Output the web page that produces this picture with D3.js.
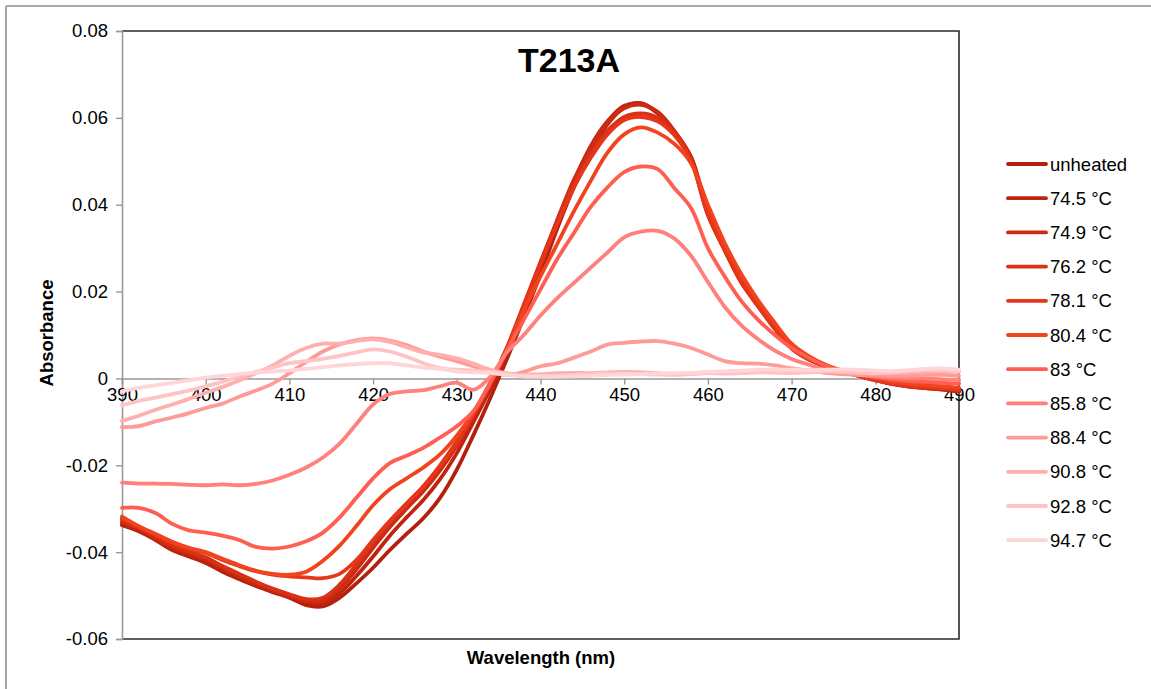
<!DOCTYPE html>
<html>
<head>
<meta charset="utf-8">
<script src="https://cdn.jsdelivr.net/npm/d3@7/dist/d3.min.js"></script>
<style>
  html, body { margin: 0; padding: 0; background: #fff; }
  svg { display: block; }
  text { font-family: "Liberation Sans", Arial, Helvetica, sans-serif; fill: #000; }
</style>
</head>
<body>
<svg id="chart" width="1151" height="689"></svg>
<script>
// ---------------- DATA ----------------
const wavelengths = [390,392,394,396,398,400,402,404,406,408,410,412,414,416,418,420,422,424,426,428,
  430,432,434,436,438,440,442,444,446,448,450,452,454,456,458,460,462,464,466,468,
  470,472,474,476,478,480,482,484,486,488,490];

const seriesNames = ["unheated","74.5 °C","74.9 °C","76.2 °C","78.1 °C","80.4 °C","83 °C","85.8 °C","88.4 °C","90.8 °C","92.8 °C","94.7 °C"];
const seriesColors = ["#b3200e","#c0240f","#cc2a12","#d93116","#e6361a","#f2431f","#ff5f52","#ff807c","#ff9b97","#ffafae","#ffc3c3","#ffd5d7"];

const unheated = [-0.0338,-0.0352,-0.0372,-0.0395,-0.0410,-0.0425,-0.0445,-0.0462,-0.0478,-0.0492,
  -0.0505,-0.0522,-0.0525,-0.0505,-0.0472,-0.0436,-0.0395,-0.0358,-0.0322,-0.0275,
  -0.0210,-0.0130,-0.0045,0.0045,0.0140,0.0240,0.0345,0.0440,0.0520,0.0585,
  0.0625,0.0634,0.0612,0.0568,0.0510,0.0385,0.0300,0.0225,0.0170,0.0118,
  0.0072,0.0046,0.0029,0.0018,0.0008,-0.0002,-0.0012,-0.0018,-0.0022,-0.0025,-0.0030];
const t745 = [-0.0335,-0.0350,-0.0370,-0.0392,-0.0406,-0.0420,-0.0440,-0.0458,-0.0475,-0.0490,
  -0.0502,-0.0515,-0.0518,-0.0495,-0.0455,-0.0410,-0.0362,-0.0320,-0.0280,-0.0232,
  -0.0172,-0.0100,-0.0025,0.0060,0.0155,0.0255,0.0360,0.0455,0.0535,0.0592,
  0.0628,0.0632,0.0610,0.0565,0.0505,0.0380,0.0298,0.0222,0.0168,0.0115,
  0.0070,0.0045,0.0028,0.0017,0.0007,-0.0003,-0.0012,-0.0019,-0.0022,-0.0026,-0.0030];
const t749 = [-0.0330,-0.0346,-0.0366,-0.0388,-0.0402,-0.0416,-0.0436,-0.0454,-0.0472,-0.0487,
  -0.0500,-0.0512,-0.0512,-0.0485,-0.0440,-0.0390,-0.0342,-0.0300,-0.0260,-0.0212,
  -0.0155,-0.0088,-0.0015,0.0068,0.0165,0.0265,0.0365,0.0458,0.0530,0.0588,
  0.0622,0.0630,0.0614,0.0570,0.0508,0.0378,0.0295,0.0220,0.0166,0.0114,
  0.0069,0.0044,0.0028,0.0016,0.0006,-0.0004,-0.0013,-0.0018,-0.0021,-0.0024,-0.0028];
const t762 = [-0.0325,-0.0343,-0.0362,-0.0384,-0.0398,-0.0412,-0.0432,-0.0450,-0.0468,-0.0484,
  -0.0497,-0.0508,-0.0505,-0.0475,-0.0428,-0.0378,-0.0330,-0.0288,-0.0248,-0.0200,
  -0.0145,-0.0080,-0.0010,0.0072,0.0170,0.0268,0.0362,0.0450,0.0518,0.0570,
  0.0602,0.0610,0.0600,0.0565,0.0502,0.0376,0.0296,0.0222,0.0167,0.0115,
  0.0070,0.0045,0.0028,0.0016,0.0006,-0.0004,-0.0012,-0.0017,-0.0020,-0.0023,-0.0026];
const t781 = [-0.0322,-0.0342,-0.0360,-0.0378,-0.0392,-0.0402,-0.0418,-0.0432,-0.0444,-0.0452,
  -0.0456,-0.0458,-0.0460,-0.0450,-0.0418,-0.0372,-0.0328,-0.0288,-0.0250,-0.0202,
  -0.0148,-0.0082,-0.0012,0.0070,0.0165,0.0262,0.0355,0.0440,0.0508,0.0562,
  0.0595,0.0602,0.0592,0.0560,0.0500,0.0378,0.0298,0.0224,0.0168,0.0116,
  0.0070,0.0045,0.0028,0.0016,0.0006,-0.0004,-0.0012,-0.0017,-0.0020,-0.0023,-0.0026];
const t804 = [-0.0318,-0.0340,-0.0358,-0.0376,-0.0390,-0.0400,-0.0415,-0.0430,-0.0443,-0.0450,
  -0.0452,-0.0445,-0.0420,-0.0385,-0.0340,-0.0292,-0.0255,-0.0230,-0.0205,-0.0175,
  -0.0132,-0.0078,-0.0010,0.0065,0.0155,0.0235,0.0310,0.0385,0.0455,0.0520,
  0.0562,0.0578,0.0566,0.0540,0.0495,0.0400,0.0312,0.0240,0.0180,0.0128,
  0.0080,0.0052,0.0032,0.0018,0.0008,0.0000,-0.0007,-0.0012,-0.0015,-0.0018,-0.0021];
const t83 = [-0.0298,-0.0298,-0.0310,-0.0335,-0.0350,-0.0355,-0.0362,-0.0372,-0.0388,-0.0392,
  -0.0387,-0.0375,-0.0355,-0.0320,-0.0275,-0.0230,-0.0195,-0.0178,-0.0160,-0.0136,
  -0.0110,-0.0075,-0.0010,0.0065,0.0135,0.0205,0.0275,0.0335,0.0395,0.0440,
  0.0475,0.0488,0.0482,0.0438,0.0392,0.0300,0.0235,0.0178,0.0135,0.0100,
  0.0070,0.0048,0.0030,0.0018,0.0010,0.0004,-0.0002,-0.0006,-0.0008,-0.0010,-0.0012];
const t858 = [-0.0240,-0.0242,-0.0242,-0.0243,-0.0245,-0.0246,-0.0244,-0.0246,-0.0243,-0.0235,
  -0.0222,-0.0205,-0.0182,-0.0150,-0.0105,-0.0060,-0.0036,-0.0030,-0.0027,-0.0018,
  -0.0010,-0.0026,0.0004,0.0060,0.0100,0.0145,0.0185,0.0220,0.0255,0.0290,
  0.0325,0.0338,0.0340,0.0322,0.0282,0.0222,0.0165,0.0122,0.0090,0.0064,
  0.0045,0.0032,0.0020,0.0013,0.0008,0.0004,0.0002,0.0000,0.0000,-0.0002,-0.0003];
const t884 = [-0.0112,-0.0110,-0.0099,-0.0090,-0.0080,-0.0068,-0.0058,-0.0042,-0.0028,-0.0012,
  0.0012,0.0038,0.0062,0.0078,0.0088,0.0092,0.0087,0.0077,0.0062,0.0050,
  0.0040,0.0028,0.0015,0.0008,0.0015,0.0028,0.0035,0.0048,0.0062,0.0078,
  0.0082,0.0085,0.0086,0.0080,0.0070,0.0055,0.0040,0.0035,0.0034,0.0030,
  0.0023,0.0018,0.0013,0.0010,0.0008,0.0008,0.0006,0.0006,0.0008,0.0008,0.0006];
const t908 = [-0.0098,-0.0086,-0.0072,-0.0060,-0.0047,-0.0033,-0.0020,-0.0005,0.0012,0.0030,
  0.0052,0.0070,0.0080,0.0080,0.0086,0.0090,0.0084,0.0072,0.0060,0.0054,
  0.0046,0.0034,0.0020,0.0012,0.0008,0.0010,0.0012,0.0013,0.0012,0.0014,
  0.0015,0.0014,0.0012,0.0010,0.0012,0.0014,0.0015,0.0017,0.0016,0.0018,
  0.0020,0.0019,0.0018,0.0016,0.0015,0.0013,0.0012,0.0014,0.0016,0.0017,0.0015];
const t928 = [-0.0062,-0.0052,-0.0044,-0.0036,-0.0028,-0.0018,-0.0008,0.0004,0.0015,0.0025,
  0.0035,0.0040,0.0045,0.0052,0.0060,0.0067,0.0062,0.0050,0.0035,0.0024,
  0.0020,0.0018,0.0015,0.0010,0.0006,0.0005,0.0006,0.0008,0.0010,0.0012,
  0.0011,0.0010,0.0009,0.0008,0.0010,0.0012,0.0011,0.0012,0.0014,0.0013,
  0.0012,0.0014,0.0016,0.0015,0.0013,0.0012,0.0014,0.0018,0.0020,0.0019,0.0016];
const t947 = [-0.0030,-0.0022,-0.0016,-0.0010,-0.0004,0.0002,0.0006,0.0010,0.0014,0.0016,
  0.0018,0.0022,0.0026,0.0030,0.0033,0.0035,0.0035,0.0030,0.0025,0.0022,
  0.0016,0.0014,0.0013,0.0008,0.0005,0.0004,0.0004,0.0005,0.0006,0.0008,
  0.0009,0.0010,0.0011,0.0012,0.0013,0.0015,0.0016,0.0018,0.0020,0.0021,
  0.0020,0.0019,0.0020,0.0021,0.0020,0.0018,0.0017,0.0019,0.0022,0.0023,0.0020];

const seriesValues = [unheated, t745, t749, t762, t781, t804, t83, t858, t884, t908, t928, t947];

const xTicks = [390,400,410,420,430,440,450,460,470,480,490];
const yTicks = [-0.06,-0.04,-0.02,0,0.02,0.04,0.06,0.08];
const yTickLabels = ["-0.06","-0.04","-0.02","0","0.02","0.04","0.06","0.08"];

// ---------------- LAYOUT ----------------
const svg = d3.select("#chart");
const L = 122, R = 959, T = 31, B = 639;
const x = d3.scaleLinear().domain([390, 490]).range([L, R]);
const y = d3.scaleLinear().domain([-0.06, 0.08]).range([B, T]);

// outer gray frame (top & left edges)
svg.append("line").attr("x1", 6).attr("y1", 6).attr("x2", 1151).attr("y2", 6)
  .attr("stroke", "#a8a8a8").attr("stroke-width", 2);
svg.append("line").attr("x1", 6).attr("y1", 6).attr("x2", 6).attr("y2", 689)
  .attr("stroke", "#a8a8a8").attr("stroke-width", 2);

// plot frame: top, right, bottom dark
svg.append("path")
  .attr("d", `M${L},${T}H${R}V${B}H${L}`)
  .attr("fill", "none").attr("stroke", "#2b2b2b").attr("stroke-width", 1.6);

// y axis (gray) on the left
const yAxis = d3.axisLeft(y).tickValues(yTicks).tickSize(6).tickPadding(8)
  .tickFormat((d, i) => yTickLabels[i]);
const gy = svg.append("g").attr("transform", `translate(${L},0)`).call(yAxis);
gy.select(".domain").attr("stroke", "#999").attr("stroke-width", 1.6);
gy.selectAll(".tick line").attr("stroke", "#999").attr("stroke-width", 1.4);
gy.selectAll(".tick text").style("font-size", "18.5px").attr("fill", "#000")
  .style("font-family", '"Liberation Sans", Arial, sans-serif');

// x axis along zero line
const xAxis = d3.axisBottom(x).tickValues(xTicks).tickSize(6).tickPadding(3)
  .tickFormat(d3.format("d"));
const gx = svg.append("g").attr("transform", `translate(0,${y(0)})`).call(xAxis);
gx.select(".domain").attr("stroke", "#999").attr("stroke-width", 1.6);
gx.selectAll(".tick line").attr("stroke", "#999").attr("stroke-width", 1.4);
gx.selectAll(".tick text").style("font-size", "18.5px").attr("fill", "#000")
  .style("font-family", '"Liberation Sans", Arial, sans-serif');

// series lines
const line = d3.line()
  .x((d, i) => x(wavelengths[i]))
  .y(d => y(d))
  .curve(d3.curveCatmullRom.alpha(0.5));

const plot = svg.append("g");
seriesValues.forEach((vals, k) => {
  plot.append("path")
    .attr("d", line(vals))
    .attr("fill", "none")
    .attr("stroke", seriesColors[k])
    .attr("stroke-width", 3.8)
    .attr("stroke-linejoin", "round")
    .attr("stroke-linecap", "round");
});

// title
svg.append("text").attr("x", 569).attr("y", 72).attr("text-anchor", "middle")
  .style("font-size", "34px").style("font-weight", "bold").text("T213A");

// axis titles
svg.append("text").attr("x", 541).attr("y", 664).attr("text-anchor", "middle")
  .style("font-size", "18.5px").style("font-weight", "bold").text("Wavelength (nm)");
svg.append("text").attr("transform", "translate(53,333) rotate(-90)").attr("text-anchor", "middle")
  .style("font-size", "18.5px").style("font-weight", "bold").text("Absorbance");

// legend
const legend = svg.append("g");
seriesNames.forEach((name, k) => {
  const ly = 164 + k * 34.2;
  legend.append("line").attr("x1", 1008).attr("x2", 1046).attr("y1", ly).attr("y2", ly)
    .attr("stroke", seriesColors[k]).attr("stroke-width", 3.8).attr("stroke-linecap", "round");
  legend.append("text").attr("x", 1050).attr("y", ly + 6.5)
    .style("font-size", "18.5px").text(name);
});
</script>
</body>
</html>
